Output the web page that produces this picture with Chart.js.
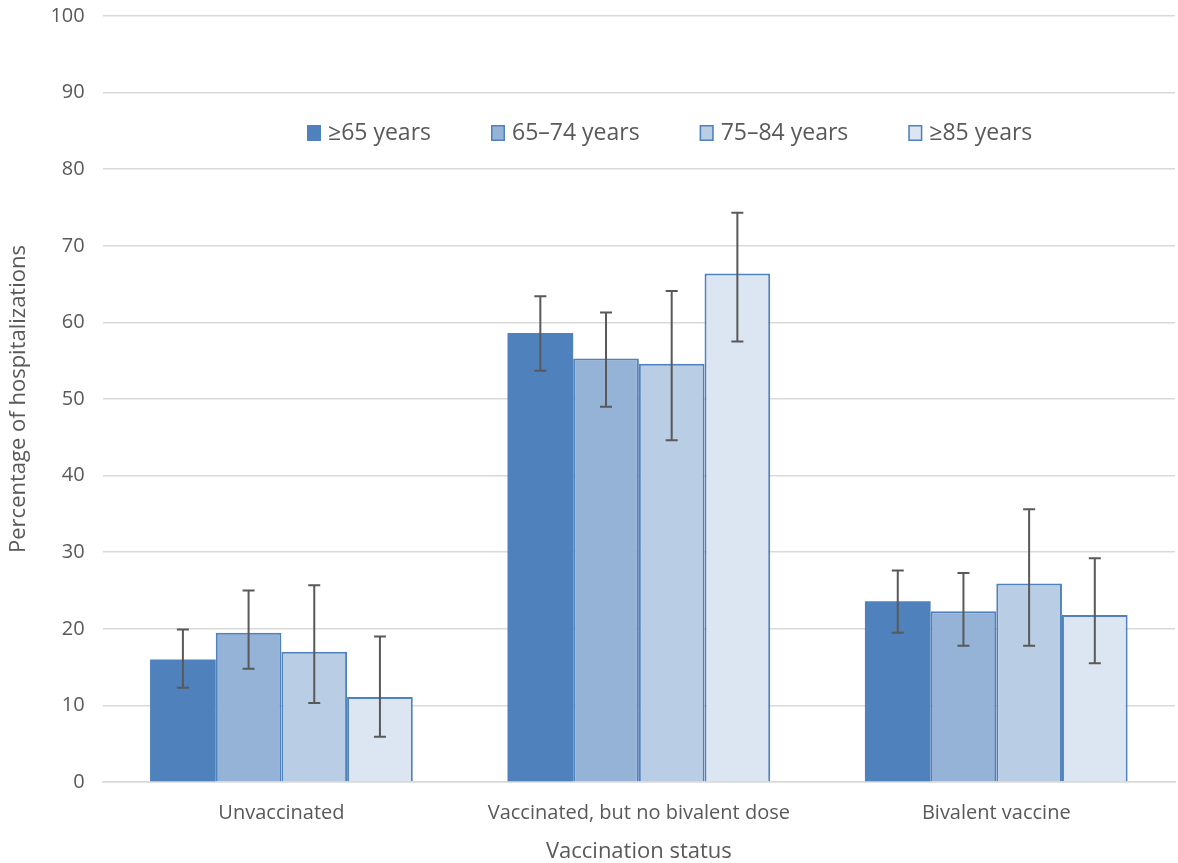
<!DOCTYPE html>
<html>
<head>
<meta charset="utf-8">
<script src="https://cdn.jsdelivr.net/npm/chart.js@4"></script>
<style>
  html, body { margin: 0; padding: 0; background: #fff; }
  #wrap { width: 1178px; height: 863px; }
</style>
</head>
<body>
<div id="wrap"><canvas id="hospChart"></canvas></div>
<script>
// categories and series
const categories = ["Unvaccinated", "Vaccinated, but no bivalent dose", "Bivalent vaccine"];
const ageGroups = ["≥65 years", "65–74 years", "75–84 years", "≥85 years"];

const age65plus = [16.0, 58.6, 23.6];
const age65to74 = [19.5, 55.3, 22.3];
const age75to84 = [17.0, 54.6, 25.9];
const age85plus = [11.1, 66.4, 21.8];

// 95% CI lower / upper
const low65plus = [12.3, 53.7, 19.5];
const high65plus = [19.9, 63.4, 27.6];
const low65to74 = [14.8, 49.0, 17.8];
const high65to74 = [25.0, 61.3, 27.3];
const low75to84 = [10.3, 44.6, 17.8];
const high75to84 = [25.7, 64.1, 35.6];
const low85plus = [5.9, 57.5, 15.5];
const high85plus = [19.0, 74.3, 29.2];

const yTicks = [0, 10, 20, 30, 40, 50, 60, 70, 80, 90, 100];

const fills = ["#4F81BD", "#95B3D7", "#B9CDE5", "#DCE6F2"];
const textColor = "#595959";
const fontFamily = "'Open Sans', 'Liberation Sans', sans-serif";

const seriesValues = [age65plus, age65to74, age75to84, age85plus];
const lows = [low65plus, low65to74, low75to84, low85plus];
const highs = [high65plus, high65to74, high75to84, high85plus];

// draws the CI whiskers
const errorBars = {
  id: "errorBars",
  afterDatasetsDraw(chart) {
    const ctx = chart.ctx;
    const y = chart.scales.y;
    ctx.save();
    ctx.strokeStyle = "#595959";
    ctx.lineWidth = 2;
    chart.data.datasets.forEach((ds, i) => {
      const meta = chart.getDatasetMeta(i);
      meta.data.forEach((bar, j) => {
        const x = bar.x;
        const top = y.getPixelForValue(highs[i][j]);
        const bot = y.getPixelForValue(lows[i][j]);
        ctx.beginPath();
        ctx.moveTo(x, top); ctx.lineTo(x, bot);
        ctx.moveTo(x - 6, top); ctx.lineTo(x + 6, top);
        ctx.moveTo(x - 6, bot); ctx.lineTo(x + 6, bot);
        ctx.stroke();
      });
    });
    ctx.restore();
  }
};

// legend row inside the plot, like the original
const insideLegend = {
  id: "insideLegend",
  afterDraw(chart) {
    const ctx = chart.ctx;
    ctx.save();
    ctx.font = "23px " + fontFamily;
    ctx.textBaseline = "middle";
    let x = 307;
    const yMid = 133;
    chart.data.datasets.forEach((ds, i) => {
      ctx.fillStyle = ds.backgroundColor;
      ctx.fillRect(x, yMid - 8, 14, 16);
      if (i > 0) {
        ctx.strokeStyle = "#4F81BD";
        ctx.lineWidth = 1.5;
        ctx.strokeRect(x + 0.75, yMid - 7.25, 12.5, 14.5);
      }
      ctx.fillStyle = textColor;
      ctx.fillText(ds.label, x + 21, yMid);
      x += 21 + ctx.measureText(ds.label).width + 60;
    });
    ctx.restore();
  }
};

new Chart(document.getElementById("hospChart").getContext("2d"), {
  type: "bar",
  data: {
    labels: categories,
    datasets: ageGroups.map((g, i) => ({
      label: g,
      data: seriesValues[i],
      backgroundColor: fills[i],
      borderColor: "#4F81BD",
      borderWidth: i === 0 ? 0 : 2,
      borderSkipped: "bottom",
      categoryPercentage: 0.735,
      barPercentage: 1.0,
    })),
  },
  options: {
    responsive: true,
    maintainAspectRatio: false,
    animation: false,
    layout: { padding: { top: 16, right: 3, left: 6, bottom: 0 } },
    plugins: {
      legend: { display: false },
      tooltip: { enabled: false },
    },
    scales: {
      x: {
        grid: { display: false },
        border: { color: "#D9D9D9", width: 1.5 },
        ticks: { color: textColor, font: { family: fontFamily, size: 20, lineHeight: 1.0 }, padding: 13 },
        title: {
          display: true,
          text: "Vaccination status",
          color: textColor,
          font: { family: fontFamily, size: 22, lineHeight: 1.0 },
          padding: { top: 5, bottom: 0 },
        },
      },
      y: {
        min: 0,
        max: 100,
        afterBuildTicks(axis) { axis.ticks = yTicks.map((v) => ({ value: v })); },
        afterFit(axis) { axis.paddingTop = 0; axis.paddingBottom = 0; },
        grid: { color: "#D9D9D9", lineWidth: 1.5, drawTicks: false },
        border: { display: false },
        ticks: { color: textColor, font: { family: fontFamily, size: 20 }, padding: 18 },
        title: {
          display: true,
          text: "Percentage of hospitalizations",
          color: textColor,
          font: { family: fontFamily, size: 22 },
          padding: { top: 0, bottom: 0 },
        },
      },
    },
  },
  plugins: [errorBars, insideLegend],
});
</script>
</body>
</html>
